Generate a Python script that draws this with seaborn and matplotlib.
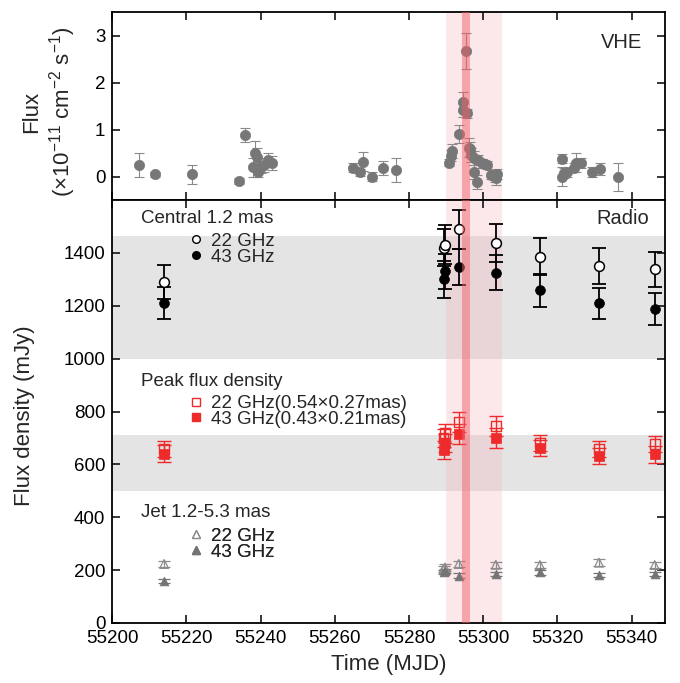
# -*- coding: utf-8 -*-

"""
VHE and radio light curves (MJD 55200-55350)
- top: VHE flux, bottom: radio flux density for three regions
"""

import matplotlib
matplotlib.use("Agg")
import matplotlib.pyplot as plt
from matplotlib.lines import Line2D
import numpy as np
import pandas as pd
import seaborn as sns

# =========================
# DATA
# =========================

vhe_mjd = [55207.2, 55211.5, 55221.5, 55234.2, 55235.8, 55238.0, 55238.6, 55238.9,
           55239.4, 55240.0, 55240.9, 55242.1, 55243.2, 55264.9, 55266.9, 55267.7,
           55270.0, 55272.9, 55276.6, 55290.7, 55291.4, 55291.6, 55293.6, 55294.5,
           55294.6, 55295.4, 55295.7, 55296.1, 55296.3, 55296.8, 55297.5, 55297.6,
           55298.4, 55298.5, 55299.7, 55300.6, 55301.1, 55302.2, 55303.1, 55303.5,
           55303.8, 55321.2, 55321.3, 55321.8, 55322.7, 55324.4, 55325.0, 55326.3,
           55329.4, 55331.5, 55336.2]
vhe_flux = [0.25, 0.05, 0.05, -0.09, 0.88, 0.20, 0.50, 0.42, 0.10, 0.20, 0.25, 0.35,
            0.30, 0.19, 0.09, 0.32, 0.00, 0.18, 0.14, 0.30, 0.45, 0.54, 0.91, 1.60,
            1.42, 2.67, 1.35, 0.62, 0.58, 0.47, 0.09, 0.40, -0.12, 0.36, 0.28, 0.26,
            0.25, 0.04, 0.00, -0.03, 0.06, 0.38, 0.00, 0.08, 0.09, 0.19, 0.30, 0.29,
            0.10, 0.16, 0.00]
vhe_err = [0.25, 0.05, 0.20, 0.07, 0.15, 0.20, 0.25, 0.20, 0.10, 0.12, 0.15, 0.15,
           0.15, 0.10, 0.08, 0.20, 0.10, 0.15, 0.25, 0.08, 0.12, 0.15, 0.20, 0.20,
           0.15, 0.38, 0.10, 0.20, 0.15, 0.15, 0.15, 0.15, 0.15, 0.10, 0.10, 0.08,
           0.08, 0.10, 0.12, 0.15, 0.10, 0.10, 0.20, 0.10, 0.10, 0.10, 0.20, 0.10,
           0.10, 0.12, 0.30]

radio_mjd = [55214.0, 55289.3, 55289.7, 55293.4, 55303.4, 55315.3, 55331.2, 55346.2]

core22 = [1291, 1420, 1432, 1489, 1438, 1386, 1352, 1338]
core22_err = [65, 70, 72, 75, 72, 71, 68, 67]
core43 = [1210, 1300, 1330, 1347, 1325, 1259, 1209, 1189]
core43_err = [60, 70, 66, 67, 66, 62, 60, 60]

peak22 = [659, 700, 718, 761, 746, 681, 659, 677]
peak22_err = [30, 35, 36, 38, 37, 31, 31, 32]
peak43 = [640, 655, 680, 714, 699, 662, 631, 639]
peak43_err = [32, 33, 34, 38, 37, 32, 31, 32]

jet22 = [223, 205, 210, 223, 220, 219, 228, 219]
jet22_err = [12, 12, 12, 12, 12, 12, 12, 12]
jet43 = [160, 193, 196, 179, 184, 191, 181, 184]
jet43_err = [8, 8, 8, 8, 8, 8, 8, 8]

flare_wide = (55290, 55305)
flare_peak = (55294.2, 55296.4)
core_band = (1000, 1465)
peak_band = (500, 710)

# =========================
# STYLE
# =========================

sns.set_theme(style="ticks")
plt.rcParams["font.family"] = ["Liberation Sans", "DejaVu Sans"]
plt.rcParams["mathtext.fontset"] = "custom"
plt.rcParams["mathtext.rm"] = "Liberation Sans"
plt.rcParams["mathtext.it"] = "Liberation Sans:italic"
plt.rcParams["axes.linewidth"] = 1.3
plt.rcParams["axes.edgecolor"] = "black"

TICK_FS = 13.5
LAB_FS = 16

vhe = pd.DataFrame({"mjd": vhe_mjd, "flux": vhe_flux, "err": vhe_err})
radio = pd.DataFrame({"mjd": radio_mjd,
                      "core22": core22, "core43": core43,
                      "peak22": peak22, "peak43": peak43,
                      "jet22": jet22, "jet43": jet43})

fig = plt.figure(figsize=(6.8, 6.83), dpi=100)
ax1 = fig.add_axes([0.165, 0.707, 0.813, 0.275])
ax2 = fig.add_axes([0.165, 0.088, 0.813, 0.619])

# =========================
# BANDS
# =========================

for ax in (ax1, ax2):
    ax.axvspan(*flare_wide, color="#f7b5ba", alpha=0.3, lw=0, zorder=0.5)
    ax.axvspan(*flare_peak, color="#f2616b", alpha=0.5, lw=0, zorder=5)

ax2.axhspan(*core_band, color="#e4e4e4", lw=0, zorder=0.2)
ax2.axhspan(*peak_band, color="#e4e4e4", lw=0, zorder=0.2)

# =========================
# VHE
# =========================

gray = "#777777"
ax1.errorbar(vhe["mjd"], vhe["flux"], yerr=vhe["err"], fmt="none",
             ecolor="#8a8a8a", elinewidth=0.8, capsize=3.5, capthick=0.8, zorder=2)
sns.scatterplot(data=vhe, x="mjd", y="flux", ax=ax1, color=gray, s=55,
                edgecolor=gray, linewidth=0.5, zorder=3, legend=False)

ax1.set_xlim(55200, 55349)
ax1.set_ylim(-0.5, 3.5)
ax1.set_yticks([0, 1, 2, 3])
ax1.set_xticks(np.arange(55200, 55341, 20))
ax1.set_xticklabels([])
ax1.set_xlabel("")
ax1.set_ylabel("Flux\n(×10$^{-11}$ cm$^{-2}$ s$^{-1}$)", fontsize=LAB_FS,
               linespacing=1.2)
ax1.yaxis.set_label_coords(-0.062, 0.47)
ax1.text(0.958, 0.84, "VHE", transform=ax1.transAxes, ha="right", va="center",
         fontsize=14.5)

# =========================
# RADIO
# =========================

red = "#ee2a2a"
tri_open = "#8c8c8c"
tri_fill = "#747474"

ax2.errorbar(radio["mjd"], radio["core22"], yerr=core22_err, fmt="none",
             ecolor="black", elinewidth=1.3, capsize=5, capthick=1.3, zorder=2)
ax2.errorbar(radio["mjd"], radio["core43"], yerr=core43_err, fmt="none",
             ecolor="black", elinewidth=1.3, capsize=5, capthick=1.3, zorder=2)
sns.scatterplot(data=radio, x="mjd", y="core22", ax=ax2, marker="o", s=50,
                facecolor="white", edgecolor="black", linewidth=1.1, zorder=3)
sns.scatterplot(data=radio, x="mjd", y="core43", ax=ax2, marker="o", s=50,
                color="black", edgecolor="black", linewidth=0.5, zorder=3)

ax2.errorbar(radio["mjd"], radio["peak22"], yerr=peak22_err, fmt="none",
             ecolor=red, elinewidth=1.0, capsize=5, capthick=1.0, zorder=2)
ax2.errorbar(radio["mjd"], radio["peak43"], yerr=peak43_err, fmt="none",
             ecolor=red, elinewidth=1.0, capsize=5, capthick=1.0, zorder=2)
sns.scatterplot(data=radio, x="mjd", y="peak22", ax=ax2, marker="s", s=50,
                facecolor="none", edgecolor=red, linewidth=1.0, zorder=3)
sns.scatterplot(data=radio, x="mjd", y="peak43", ax=ax2, marker="s", s=50,
                color=red, edgecolor=red, linewidth=0.5, zorder=3)

ax2.errorbar(radio["mjd"], radio["jet22"], yerr=jet22_err, fmt="none",
             ecolor=tri_open, elinewidth=0.9, capsize=4, capthick=0.9, zorder=2)
ax2.errorbar(radio["mjd"], radio["jet43"], yerr=jet43_err, fmt="none",
             ecolor=tri_fill, elinewidth=0.9, capsize=4, capthick=0.9, zorder=2)
sns.scatterplot(data=radio, x="mjd", y="jet22", ax=ax2, marker="^", s=40,
                facecolor="none", edgecolor=tri_open, linewidth=0.9, zorder=3)
sns.scatterplot(data=radio, x="mjd", y="jet43", ax=ax2, marker="^", s=40,
                color=tri_fill, edgecolor=tri_fill, linewidth=0.5, zorder=3)

ax2.set_xlim(55200, 55349)
ax2.set_ylim(0, 1600)
ax2.set_yticks(np.arange(0, 1401, 200))
ax2.set_xticks(np.arange(55200, 55341, 20))
ax2.set_xlabel("Time (MJD)", fontsize=LAB_FS, labelpad=5)
ax2.set_ylabel("Flux density (mJy)", fontsize=LAB_FS)
ax2.yaxis.set_label_coords(-0.139, 0.49)
ax2.text(0.971, 0.957, "Radio", transform=ax2.transAxes, ha="right", va="center",
         fontsize=14.5)

for ax in (ax1, ax2):
    ax.tick_params(direction="in", top=True, right=True, length=6, width=1.1,
                   labelsize=TICK_FS, pad=5, colors="black")

# =========================
# LEGENDS
# =========================

def group_legend(title, handles, labels, y_title, y_mid):
    ax2.text(0.052, y_title, title, transform=ax2.transAxes, ha="left",
             va="center", fontsize=TICK_FS, zorder=6)
    leg = ax2.legend(handles, labels, loc="center left",
                     bbox_to_anchor=(0.135, y_mid), frameon=False,
                     fontsize=TICK_FS, handlelength=1.0, handletextpad=0.3,
                     labelspacing=-0.08, borderpad=0, borderaxespad=0)
    ax2.add_artist(leg)

group_legend("Central 1.2 mas",
             [Line2D([], [], ls="none", marker="o", ms=5.5, mfc="white", mec="black", mew=1.0),
              Line2D([], [], ls="none", marker="o", ms=5.5, mfc="black", mec="black")],
             ["22 GHz", "43 GHz"], 0.957, 0.884)
group_legend("Peak flux density",
             [Line2D([], [], ls="none", marker="s", ms=5.5, mfc="none", mec=red, mew=1.0),
              Line2D([], [], ls="none", marker="s", ms=5.5, mfc=red, mec=red)],
             ["22 GHz(0.54×0.27mas)", "43 GHz(0.43×0.21mas)"], 0.572, 0.5)
group_legend("Jet 1.2-5.3 mas",
             [Line2D([], [], ls="none", marker="^", ms=5.5, mfc="none", mec=tri_open, mew=0.9),
              Line2D([], [], ls="none", marker="^", ms=5.5, mfc=tri_fill, mec=tri_fill)],
             ["22 GHz", "43 GHz"], 0.26, 0.186)

fig.savefig("out.png", dpi=100)
